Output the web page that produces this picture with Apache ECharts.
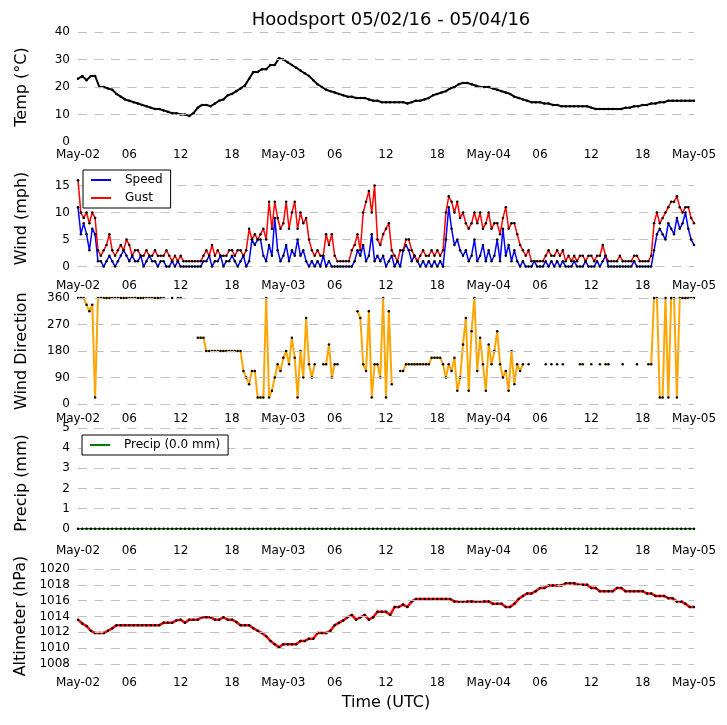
<!DOCTYPE html>
<html>
<head>
<meta charset="utf-8">
<title>Hoodsport 05/02/16 - 05/04/16</title>
<script src="https://cdn.jsdelivr.net/npm/echarts@6.0.0/dist/echarts.min.js"></script>
<style>
html, body { margin: 0; padding: 0; background: #fff; }
#chart { width: 727px; height: 725px; }
</style>
</head>
<body>
<div id="chart"></div>
<script>
// x is hours since May-02 00:00 UTC, one tick label every 6 h
var hourTicks = ['May-02', '06', '12', '18', 'May-03', '06', '12', '18', 'May-04', '06', '12', '18', 'May-05'];
var xMin = 0;
var xMax = 72;

// temperature (C), one value every 30 min
var tempStep = 0.5;
var temp = [
    23, 24, 22.5, 24, 24, 20, 20, 19.5, 19, 17.5, 16.5, 15.5,
    15, 14.5, 14, 13.5, 13, 12.5, 12, 12, 11.5, 11, 10.5, 10.5,
    10, 10, 9.5, 10.5, 12.5, 13.5, 13.5, 13, 14, 15, 15.5, 17,
    17.5, 18.5, 19.5, 20.5, 23, 25.5, 25.5, 26.5, 26.5, 28, 28, 30.5,
    30, 29, 28, 27, 26, 25, 24, 22.5, 21, 20, 19, 18.5,
    18, 17.5, 17, 16.5, 16.5, 16, 16, 16, 15.5, 15, 15, 14.5,
    14.5, 14.5, 14.5, 14.5, 14.5, 14, 14.5, 15, 15, 15.5, 16, 17,
    17.5, 18, 18.5, 19.5, 20, 21, 21.5, 21.5, 21, 20.5, 20, 20,
    20, 19.5, 19, 18.5, 18, 17.5, 16.5, 16, 15.5, 15, 14.5, 14.5,
    14.5, 14, 14, 13.5, 13.5, 13, 13, 13, 13, 13, 13, 13,
    12.5, 12, 12, 12, 12, 12, 12, 12, 12.5, 12.5, 13, 13,
    13.5, 13.5, 14, 14, 14.5, 14.5, 15, 15, 15, 15, 15, 15,
    15
];

// wind (mph) and direction (deg), one value every 20 min
var windStep = 1 / 3;
var windSpeed = [
    11, 6, 8, 6, 3, 7, 6, 1, 1, 0, 1, 2, 1, 0, 1, 2, 3, 2,
    1, 2, 1, 1, 2, 0, 1, 2, 1, 1, 0, 1, 1, 0, 0, 1, 0, 1,
    0, 0, 0, 0, 0, 0, 0, 0, 1, 1, 2, 0, 1, 1, 2, 0, 1, 1,
    2, 1, 0, 1, 2, 0, 1, 5, 4, 5, 5, 2, 1, 4, 2, 9, 3, 1,
    2, 4, 1, 3, 2, 5, 2, 3, 1, 0, 1, 0, 1, 0, 2, 0, 1, 0,
    0, 0, 0, 0, 0, 0, 0, 1, 3, 2, 4, 1, 2, 6, 1, 2, 1, 2,
    0, 1, 2, 0, 1, 0, 3, 4, 3, 1, 2, 1, 0, 1, 0, 1, 0, 1,
    0, 1, 0, 5, 11, 7, 4, 5, 3, 2, 3, 1, 2, 5, 1, 2, 4, 1,
    3, 1, 2, 5, 1, 7, 2, 4, 1, 3, 1, 0, 1, 0, 0, 0, 1, 0,
    0, 0, 1, 0, 1, 0, 1, 0, 1, 0, 0, 0, 1, 0, 0, 0, 1, 0,
    0, 0, 1, 0, 1, 2, 0, 0, 0, 0, 0, 0, 0, 0, 0, 1, 0, 0,
    0, 0, 0, 0, 3, 6, 7, 6, 5, 8, 7, 6, 9, 7, 8, 10, 7, 5,
    4
];
var windGust = [
    16, 10, 9, 10, 8, 10, 9, 3, 2, 3, 4, 6, 3, 2, 3, 4, 3, 5,
    4, 2, 3, 3, 2, 2, 3, 2, 2, 3, 2, 2, 2, 3, 2, 1, 2, 1,
    2, 1, 1, 1, 1, 1, 1, 1, 2, 3, 2, 4, 2, 3, 2, 2, 2, 3,
    3, 2, 3, 3, 2, 3, 7, 5, 6, 5, 6, 7, 5, 12, 7, 12, 9, 7,
    8, 12, 7, 10, 12, 7, 10, 8, 9, 5, 3, 2, 3, 2, 2, 6, 4, 6,
    2, 1, 1, 1, 1, 1, 3, 4, 6, 3, 10, 12, 14, 10, 15, 5, 4, 6,
    7, 8, 3, 2, 1, 3, 3, 5, 5, 3, 2, 1, 2, 3, 2, 2, 3, 2,
    3, 2, 3, 10, 13, 12, 10, 12, 9, 10, 8, 7, 8, 10, 8, 10, 7, 8,
    10, 7, 8, 8, 6, 9, 11, 7, 8, 8, 6, 4, 3, 2, 3, 1, 1, 1,
    1, 1, 2, 3, 2, 2, 3, 2, 3, 1, 2, 1, 2, 1, 2, 2, 1, 2,
    2, 1, 2, 2, 4, 2, 1, 1, 1, 1, 2, 1, 1, 1, 1, 2, 2, 1,
    1, 1, 1, 2, 8, 10, 8, 9, 10, 11, 12, 12, 13, 11, 10, 11, 11, 9,
    8
];
var windDir = [
    360, 360, 360, 337.5, 315, 337.5, 22.5, 360, 360, 360, 360, 360,
    360, 360, 360, 360, 360, 360, 360, 360, 360, 360, 360, 360,
    360, 360, 360, 360, 360, 360, 360, null, null, 360, null, 360,
    360, null, null, null, null, null, 225, 225, 225, 180, 180, 180,
    180, 180, 180, 180, 180, 180, 180, 180, 180, 180, 112.5, 90,
    67.5, 112.5, 112.5, 22.5, 22.5, 22.5, 360, 22.5, 45, 90, 135, 112.5,
    157.5, 180, 135, 225, 157.5, 22.5, 180, 90, 292.5, 135, 90, 135,
    null, null, 135, 135, 202.5, 90, 135, 135, null, null, null, null,
    null, null, 315, 292.5, 135, 112.5, 315, 22.5, 135, 135, 90, 360,
    22.5, 315, 67.5, null, null, 112.5, 112.5, 135, 135, 135, 135, 135,
    135, 135, 135, 135, 157.5, 157.5, 157.5, 157.5, 135, 90, 135, 112.5,
    157.5, 45, 90, 202.5, 292.5, 45, 247.5, 360, 112.5, 225, 135, 45,
    202.5, 135, 180, 247.5, 135, 90, 112.5, 45, 180, 67.5, 135, 112.5,
    135, null, 135, null, null, null, null, null, 135, null, 135, null,
    135, null, 135, null, null, null, null, null, 135, 135, null, null,
    135, null, null, 135, null, 135, 135, null, null, null, null, 135,
    null, null, null, null, 135, null, null, null, 135, 135, 360, 360,
    22.5, 22.5, 360, 22.5, 360, 360, 22.5, 360, 360, 360, 360, 360,
    360
];

// precipitation (mm), one value every 30 min
var precipStep = 0.5;
var precip = [
    0, 0, 0, 0, 0, 0, 0, 0, 0, 0, 0, 0, 0, 0, 0, 0, 0, 0, 0, 0, 0, 0, 0, 0,
    0, 0, 0, 0, 0, 0, 0, 0, 0, 0, 0, 0, 0, 0, 0, 0, 0, 0, 0, 0, 0, 0, 0, 0,
    0, 0, 0, 0, 0, 0, 0, 0, 0, 0, 0, 0, 0, 0, 0, 0, 0, 0, 0, 0, 0, 0, 0, 0,
    0, 0, 0, 0, 0, 0, 0, 0, 0, 0, 0, 0, 0, 0, 0, 0, 0, 0, 0, 0, 0, 0, 0, 0,
    0, 0, 0, 0, 0, 0, 0, 0, 0, 0, 0, 0, 0, 0, 0, 0, 0, 0, 0, 0, 0, 0, 0, 0,
    0, 0, 0, 0, 0, 0, 0, 0, 0, 0, 0, 0, 0, 0, 0, 0, 0, 0, 0, 0, 0, 0, 0, 0,
    0
];

// altimeter (hPa), one value every 30 min
var altStep = 0.5;
var altimeter = [
    1013.6, 1013.1, 1012.8, 1012.2, 1011.9, 1011.9, 1011.9, 1012.2, 1012.5, 1012.9, 1012.9, 1012.9,
    1012.9, 1012.9, 1012.9, 1012.9, 1012.9, 1012.9, 1012.9, 1012.9, 1013.2, 1013.2, 1013.2, 1013.5,
    1013.6, 1013.2, 1013.6, 1013.6, 1013.6, 1013.9, 1013.9, 1013.9, 1013.6, 1013.6, 1013.9, 1013.6,
    1013.6, 1013.3, 1012.9, 1012.9, 1012.9, 1012.5, 1012.2, 1011.9, 1011.5, 1010.9, 1010.5, 1010.1,
    1010.5, 1010.5, 1010.5, 1010.5, 1010.9, 1010.9, 1011.2, 1011.2, 1011.9, 1011.9, 1011.9, 1012.2,
    1012.9, 1013.2, 1013.5, 1013.9, 1014.2, 1013.6, 1013.9, 1014.2, 1013.6, 1013.9, 1014.6, 1014.6,
    1014.6, 1014.2, 1015.2, 1015.2, 1015.5, 1015.2, 1015.9, 1016.2, 1016.2, 1016.2, 1016.2, 1016.2,
    1016.2, 1016.2, 1016.2, 1016.2, 1015.9, 1015.9, 1015.9, 1015.9, 1015.9, 1015.9, 1015.9, 1015.9,
    1015.9, 1015.6, 1015.6, 1015.6, 1015.2, 1015.2, 1015.6, 1016.2, 1016.6, 1016.9, 1016.9, 1017.2,
    1017.6, 1017.6, 1017.9, 1017.9, 1017.9, 1017.9, 1018.2, 1018.2, 1018.2, 1018.0, 1018.0, 1018.0,
    1017.6, 1017.6, 1017.2, 1017.2, 1017.2, 1017.2, 1017.6, 1017.6, 1017.2, 1017.2, 1017.2, 1017.2,
    1017.2, 1016.9, 1016.9, 1016.6, 1016.6, 1016.6, 1016.3, 1016.3, 1015.9, 1015.9, 1015.6, 1015.2,
    1015.2
];

var tempTicks = [0, 10, 20, 30, 40];
var windTicks = [0, 5, 10, 15];
var dirTicks = [0, 90, 180, 270, 360];
var precipTicks = [0, 1, 2, 3, 4, 5];
var altTicks = [1008, 1010, 1012, 1014, 1016, 1018, 1020];

var FONT = 'DejaVu Sans';
var GRID_LINE = {color: '#c0c0c0', width: 1, type: [9, 7.5]};

function toPairs(values, step) {
    return values.map(function (v, i) {
        return [i * step, v];
    });
}

function makeXAxis(idx) {
    return {
        type: 'value',
        gridIndex: idx,
        min: xMin,
        max: xMax,
        interval: 6,
        axisLine: {show: false},
        axisTick: {show: false},
        splitLine: {show: false},
        axisLabel: {
            showMinLabel: true,
            showMaxLabel: true,
            margin: 7,
            color: '#000',
            fontFamily: FONT,
            fontSize: 12,
            formatter: function (v) {
                return hourTicks[Math.round(v / 6)];
            }
        }
    };
}

function makeYAxis(idx, name, min, max, ticks) {
    return {
        type: 'value',
        gridIndex: idx,
        min: min,
        max: max,
        name: name,
        nameLocation: 'middle',
        nameRotate: 90,
        nameGap: 48,
        nameTextStyle: {color: '#000', fontFamily: FONT, fontSize: 16},
        axisLine: {show: false},
        axisTick: {show: false, customValues: ticks},
        axisLabel: {
            customValues: ticks,
            margin: 8,
            color: '#000',
            fontFamily: FONT,
            fontSize: 12,
            formatter: function (v) {
                return String(v);
            }
        },
        splitLine: {show: false}
    };
}

function markGrid(values) {
    return {
        silent: true,
        animation: false,
        symbol: ['none', 'none'],
        label: {show: false},
        emphasis: {disabled: true},
        lineStyle: GRID_LINE,
        data: values.map(function (v) {
            return {yAxis: v};
        })
    };
}

function lineSeries(name, idx, data, color, width, grid) {
    let s = {
        name: name,
        type: 'line',
        xAxisIndex: idx,
        yAxisIndex: idx,
        data: data,
        showSymbol: true,
        showAllSymbol: true,
        symbol: 'circle',
        symbolSize: 2.5,
        itemStyle: {color: '#000'},
        lineStyle: {color: color, width: width},
        emphasis: {disabled: true}
    };
    if (grid) {
        s.markLine = markGrid(grid);
    }
    return s;
}

// wind panel grid lines as plain dashed series across the full x range
function windGridLines() {
    return windTicks.map(function (v) {
        return {
            type: 'line',
            xAxisIndex: 1,
            yAxisIndex: 1,
            data: [[xMin, v], [xMax, v]],
            symbol: 'none',
            silent: true,
            z: 1,
            lineStyle: GRID_LINE,
            emphasis: {disabled: true}
        };
    });
}

let myChart = echarts.init(document.getElementById('chart'));

let xAxes = [];
for (let i = 0; i < 5; i++) {
    xAxes.push(makeXAxis(i));
}
xAxes[4].name = 'Time (UTC)';
xAxes[4].nameLocation = 'middle';
xAxes[4].nameGap = 25;
xAxes[4].nameTextStyle = {color: '#000', fontFamily: FONT, fontSize: 16};

let legendBox = {
    orient: 'vertical',
    backgroundColor: '#fff',
    borderColor: '#000',
    borderWidth: 1,
    borderRadius: 0,
    padding: [4, 8, 4, 8],
    itemWidth: 20,
    itemHeight: 2,
    itemGap: 6,
    icon: 'rect',
    selectedMode: false,
    z: 10,
    textStyle: {color: '#000', fontFamily: FONT, fontSize: 12, padding: [0, 0, 0, 9]}
};

let option = {
    animation: false,
    backgroundColor: '#fff',
    title: {
        text: 'Hoodsport 05/02/16 - 05/04/16',
        left: 386,
        textAlign: 'center',
        top: 6,
        textStyle: {color: '#000', fontFamily: FONT, fontSize: 18, fontWeight: 'normal'}
    },
    legend: [
        Object.assign({}, legendBox, {
            left: 83,
            top: 170,
            data: [
                {name: 'Speed', itemStyle: {color: '#0000ff'}},
                {name: 'Gust', itemStyle: {color: '#ff0000'}}
            ]
        }),
        Object.assign({}, legendBox, {
            left: 82,
            top: 435,
            data: [
                {name: 'Precip (0.0 mm)', itemStyle: {color: '#007f00'}}
            ]
        })
    ],
    grid: [
        {left: 78, right: 33, top: 32, height: 110},
        {left: 78, right: 33, top: 164.5, height: 108},
        {left: 78, right: 33, top: 297, height: 108.5},
        {left: 78, right: 33, top: 428, height: 110},
        {left: 78, right: 33, top: 562, height: 108}
    ],
    xAxis: xAxes,
    yAxis: [
        makeYAxis(0, 'Temp (°C)', 0, 40, tempTicks),
        makeYAxis(1, 'Wind (mph)', -1.1, 18.9, windTicks),
        makeYAxis(2, 'Wind Direction', -5, 363.5, dirTicks),
        makeYAxis(3, 'Precip (mm)', -0.46, 5, precipTicks),
        makeYAxis(4, 'Altimeter (hPa)', 1007.24, 1020.88, altTicks)
    ],
    series: [
        lineSeries('Temp', 0, toPairs(temp, tempStep), '#000', 2, tempTicks.slice(1))
    ].concat(windGridLines(), [
        lineSeries('Speed', 1, toPairs(windSpeed, windStep), '#0000ff', 1.5),
        lineSeries('Gust', 1, toPairs(windGust, windStep), '#ff0000', 1.5),
        lineSeries('Direction', 2, toPairs(windDir, windStep), '#ffa500', 2, dirTicks),
        lineSeries('Precip (0.0 mm)', 3, toPairs(precip, precipStep), '#007f00', 1.5, precipTicks.slice(1)),
        lineSeries('Altimeter', 4, toPairs(altimeter, altStep), '#ff0000', 2.5, altTicks)
    ])
};
myChart.setOption(option);
</script>
</body>
</html>
